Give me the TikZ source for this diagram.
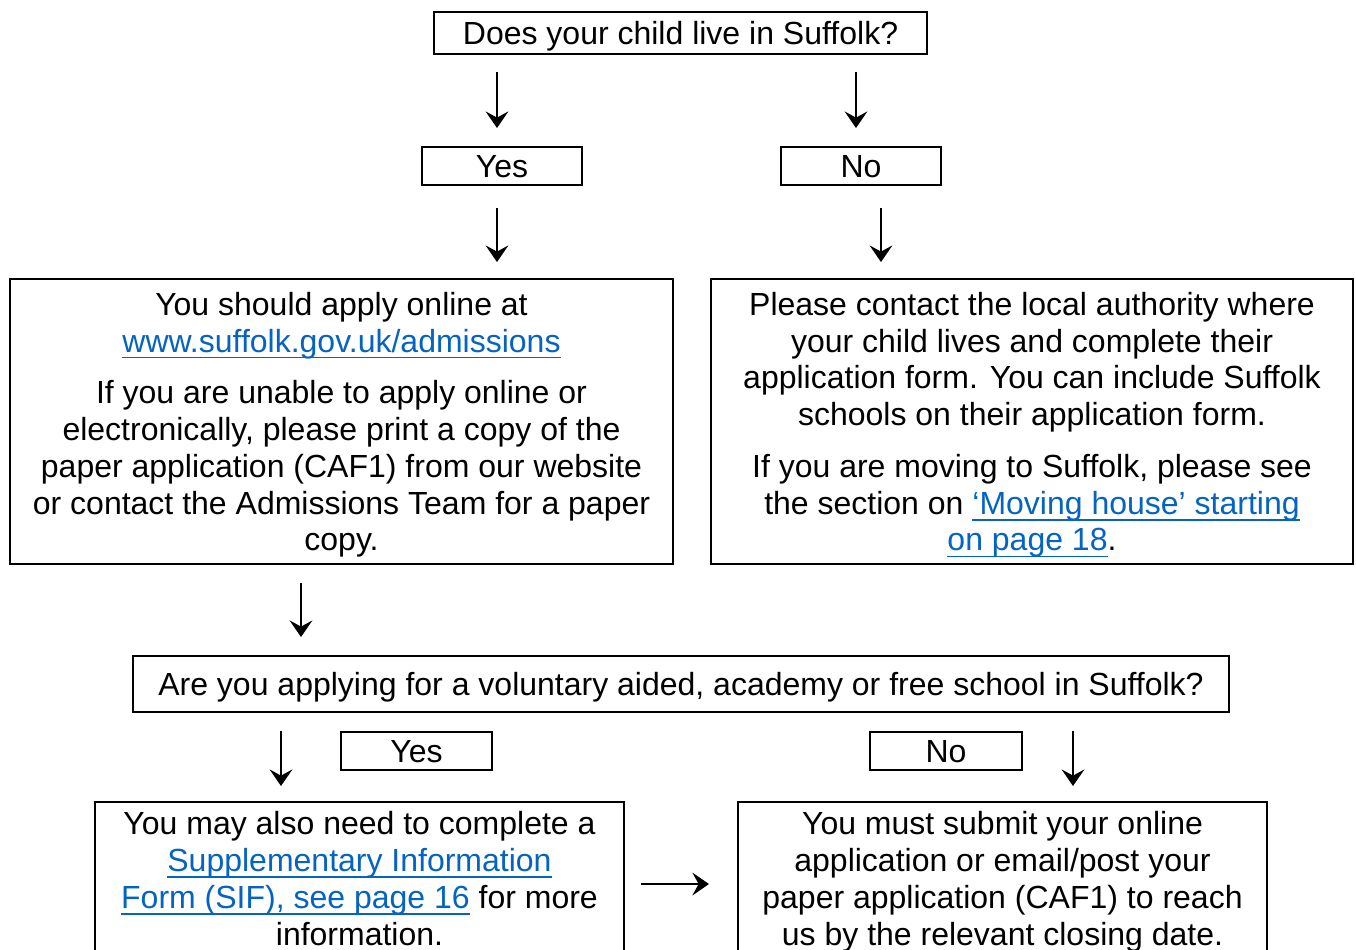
\documentclass[tikz,border=0pt]{standalone}
\usepackage{fontspec}
\setmainfont{Liberation Sans}
\usetikzlibrary{arrows.meta}
\definecolor{linkblue}{HTML}{0563C1}
\newcommand\lnk[1]{{\color{linkblue}\setbox0\hbox{#1}\rlap{\rule[-2.4pt]{\wd0}{0.7pt}}\box0}}
\newcommand\pw{0.375pt}
\tikzset{
  box/.style={draw, line width=0.75pt, inner sep=0pt, align=center, text depth=0pt,
    font=\fontsize{12}{13.8}\selectfont},
  conn/.style={line width=0.9pt, -{Stealth[length=6.2pt,width=8.5pt,inset=2.3pt]}}
}
\begin{document}
\begin{tikzpicture}[x=0.375pt,y=-0.375pt]
\useasboundingbox (0,0) rectangle (1356,949);
\clip (0,0) rectangle (1356,949);
\node[box, minimum width=493*\pw, minimum height=42*\pw] (q1) at (680.5,33) {Does your child live in Suffolk?};
\node[box, minimum width=160*\pw, minimum height=38*\pw] (yes1) at (502,166) {Yes};
\node[box, minimum width=160*\pw, minimum height=38*\pw] (no1) at (861,166) {No};
\node[box, minimum width=663*\pw, minimum height=285*\pw] (lb) at (341.5,421.5) {You should apply online at\\ \lnk{www.suffolk.gov.uk/admissions}\\[5.6pt] If you are unable to apply online or\\ electronically, please print a copy of the\\ paper application (CAF1) from our website\\ or contact the Admissions Team for a paper\\ copy.};
\node[box, minimum width=642*\pw, minimum height=285*\pw] (rb) at (1032,421.5) {Please contact the local authority where\\ your child lives and complete their\\ application form. You can include Suffolk\\ schools on their application form.\\[5.6pt] If you are moving to Suffolk, please see\\ the section on \lnk{‘Moving house’ starting}\\ \lnk{on page 18}.};
\node[box, minimum width=1096*\pw, minimum height=56*\pw] (q2) at (681,684) {Are you applying for a voluntary aided, academy or free school in Suffolk?};
\node[box, minimum width=151*\pw, minimum height=38*\pw] (yes2) at (416.5,751) {Yes};
\node[box, minimum width=152*\pw, minimum height=38*\pw] (no2) at (946,751) {No};
\node[box, minimum width=529*\pw, minimum height=153*\pw] (bl) at (359.5,878.5) {You may also need to complete a\\ \lnk{Supplementary Information}\\ \lnk{Form (SIF), see page 16} for more\\ information.};
\node[box, minimum width=529*\pw, minimum height=153*\pw] (br) at (1002.5,878.5) {You must submit your online\\ application or email/post your\\ paper application (CAF1) to reach\\ us by the relevant closing date.};
% arrow end points
\coordinate (a1s) at (497,72);  \coordinate (a1e) at (497,128);
\coordinate (a2s) at (856,72);  \coordinate (a2e) at (856,128);
\coordinate (a3s) at (497,208); \coordinate (a3e) at (497,262);
\coordinate (a4s) at (881,208); \coordinate (a4e) at (881,262);
\coordinate (a5s) at (301,583); \coordinate (a5e) at (301,637);
\coordinate (a6s) at (281,731); \coordinate (a6e) at (281,786);
\coordinate (a7s) at (1073,731); \coordinate (a7e) at (1073,786);
\coordinate (a8s) at (641,884); \coordinate (a8e) at (709,884);
\draw[conn] (a1s) -- (a1e);
\draw[conn] (a2s) -- (a2e);
\draw[conn] (a3s) -- (a3e);
\draw[conn] (a4s) -- (a4e);
\draw[conn] (a5s) -- (a5e);
\draw[conn] (a6s) -- (a6e);
\draw[conn] (a7s) -- (a7e);
\draw[conn] (a8s) -- (a8e);
\end{tikzpicture}
\end{document}
